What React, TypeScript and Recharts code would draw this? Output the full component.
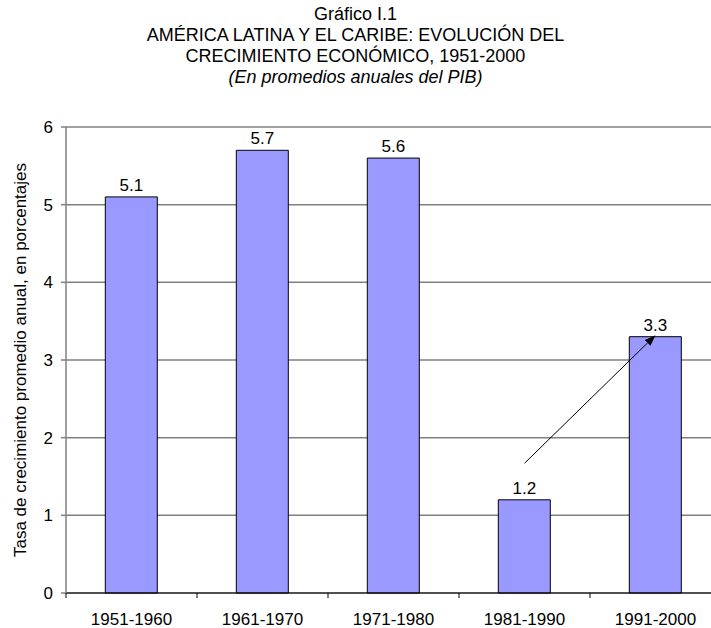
import React from 'react'
import { BarChart, Bar, XAxis, YAxis, CartesianGrid, LabelList, ReferenceLine } from 'recharts'

const periods = ['1951-1960', '1961-1970', '1971-1980', '1981-1990', '1991-2000']
const growth = [5.1, 5.7, 5.6, 1.2, 3.3]
const yTicks = [0, 1, 2, 3, 4, 5, 6]

const titleLines = [
    'Gráfico I.1',
    'AMÉRICA LATINA Y EL CARIBE: EVOLUCIÓN DEL',
    'CRECIMIENTO ECONÓMICO, 1951-2000',
]
const subtitle = '(En promedios anuales del PIB)'
const yLabel = 'Tasa de crecimiento promedio anual, en porcentajes'

// arrow annotation, 1981-1990 -> 1991-2000
const arrowFrom = { x: '1981-1990', y: 1.67 }
const arrowTo = { x: '1991-2000', y: 3.32 }

const FONT = '"Liberation Sans", Arial, Helvetica, sans-serif'

const chartData = periods.map((p, i) => ({ period: p, value: growth[i] }))

function PeriodTick(props: any) {
    const { x, y, payload } = props
    const half = payload && payload.offset ? payload.offset : 65.5
    return (
        <g>
            <line x1={x - half} y1={y} x2={x - half} y2={y + 5} stroke="#000" strokeWidth={1} />
            <text x={x} y={y + 32} textAnchor="middle" fill="#000" fontSize={17} fontFamily={FONT}>
                {payload.value}
            </text>
        </g>
    )
}

function ArrowShape(props: any) {
    const { x1, y1, x2, y2 } = props
    if ([x1, y1, x2, y2].some(v => typeof v !== 'number' || isNaN(v))) return null
    const ang = Math.atan2(y2 - y1, x2 - x1)
    const len = 11
    const w = 4
    const bx = x2 - len * Math.cos(ang)
    const by = y2 - len * Math.sin(ang)
    const px = w * Math.sin(ang)
    const py = -w * Math.cos(ang)
    return (
        <g>
            <line x1={x1} y1={y1} x2={bx} y2={by} stroke="#000" strokeWidth={1} />
            <polygon points={`${x2},${y2} ${bx + px},${by + py} ${bx - px},${by - py}`} fill="#000" />
        </g>
    )
}

export default function App() {
    return (
        <div style={{ position: 'absolute', left: 0, top: 0, width: 711, height: 628, overflow: 'hidden', background: '#fff', fontFamily: FONT }}>
            <div style={{ position: 'absolute', left: 0, top: 4, width: 711, textAlign: 'center', fontSize: 18, lineHeight: '21px', color: '#000' }}>
                {titleLines.map(t => <div key={t}>{t}</div>)}
                <div style={{ fontStyle: 'italic' }}>{subtitle}</div>
            </div>
            <BarChart
                width={740}
                height={628}
                data={chartData}
                margin={{ top: 127, right: 19, left: 0, bottom: 0 }}
                barCategoryGap="30%"
            >
                <CartesianGrid horizontal vertical={false} stroke="#808080" strokeWidth={1.5} xAxisId="cat" />
                <XAxis
                    xAxisId="cat"
                    dataKey="period"
                    height={35}
                    tickSize={0}
                    tickMargin={0}
                    tickLine={false}
                    axisLine={{ stroke: '#000', strokeWidth: 1 }}
                    tick={<PeriodTick />}
                    interval={0}
                />
                <YAxis
                    width={66}
                    domain={[0, 6]}
                    ticks={yTicks}
                    tickSize={5}
                    tickMargin={8}
                    axisLine={{ stroke: '#808080', strokeWidth: 1.5 }}
                    tickLine={{ stroke: '#808080', strokeWidth: 1.5 }}
                    tick={{ fill: '#000', fontSize: 17, fontFamily: FONT }}
                    label={{
                        value: yLabel,
                        angle: -90,
                        position: 'insideLeft',
                        offset: 20,
                        style: { textAnchor: 'middle', fontSize: 17, fill: '#000', fontFamily: FONT },
                    }}
                />
                <Bar dataKey="value" xAxisId="cat" fill="#9999FF" stroke="#000" strokeWidth={1} isAnimationActive={false}>
                    <LabelList dataKey="value" position="top" offset={6} fill="#000" fontSize={17} fontFamily={FONT} />
                </Bar>
                <ReferenceLine
                    xAxisId="cat"
                    segment={[arrowFrom, arrowTo]}
                    shape={<ArrowShape />}
                    ifOverflow="visible"
                />
            </BarChart>
        </div>
    )
}
